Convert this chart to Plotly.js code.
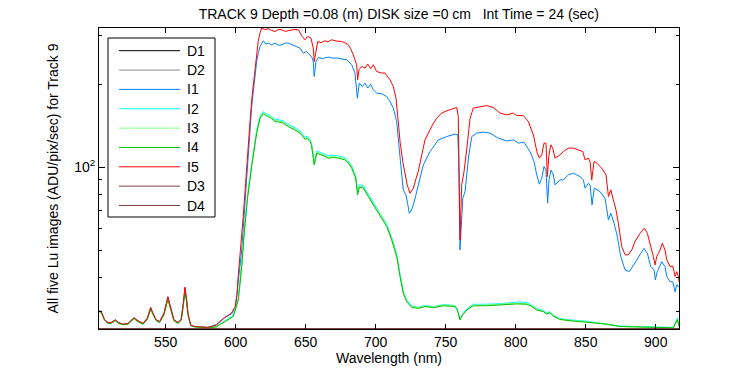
<!DOCTYPE html>
<html>
<head>
<meta charset="utf-8">
<script src="https://cdn.plot.ly/plotly-3.0.1.min.js"></script>
<style>html,body{margin:0;padding:0;background:#fff;}#chart{width:750px;height:375px;}</style>
</head>
<body>
<div id="chart"></div>
<script>
// ---------------- DATA ----------------
const seriesNames = ["D1", "D2", "I1", "I2", "I3", "I4", "I5", "D3", "D4"];

const xTickVals = [550, 600, 650, 700, 750, 800, 850, 900];
const yTickVals = [100];
const yTickText = ["10<sup>2</sup>"];
const yMinorVals = [30, 40, 50, 60, 70, 80, 90, 200, 300];

// dark frames (lie along the bottom of the axes)
const wlDark = [502.4, 530, 560, 600, 610, 640, 660, 700, 720, 760, 800, 830, 860, 900, 916.6];
const d1 = [26.0, 26.0, 26.0, 26.0, 26.1, 26.0, 26.1, 26.0, 26.1, 26.0, 26.1, 26.0, 26.0, 26.0, 26.0];
const d2 = [26.0, 26.0, 26.0, 26.0, 26.0, 26.0, 26.0, 26.0, 26.0, 26.0, 26.0, 26.0, 26.0, 26.0, 26.0];
const d3 = [26.0, 26.0, 26.0, 26.0, 26.0, 26.0, 26.0, 26.0, 26.0, 26.0, 26.0, 26.0, 26.0, 26.0, 26.0];
const d4 = [26.0, 26.0, 26.0, 26.0, 26.0, 26.0, 26.0, 26.0, 26.0, 26.0, 26.0, 26.0, 26.0, 26.0, 26.0];

// I1 (blue)
const wlI1 = [
502.4, 504.0, 506.4, 508.8, 511.1, 514.0, 516.4, 519.5, 523.1, 527.4,
530.2, 533.8, 536.9, 539.3, 540.9, 543.3, 545.7, 548.8, 551.6, 553.6,
555.9, 558.8, 561.1, 562.6, 563.8, 565.0, 565.9, 567.9, 570.7, 580.2,
586.1, 592.1, 596.9, 599.7, 601.6, 604.3, 605.4, 607.1, 607.9, 609.0,
610.2, 611.4, 612.6, 613.8, 615.0, 616.2, 617.4, 619.7, 621.5, 623.3,
625.7, 628.1, 630.5, 632.9, 635.3, 637.6, 640.0, 642.4, 645.9, 648.3,
650.7, 653.1, 654.7, 655.5, 656.1, 657.4, 659.0, 662.0, 666.1, 669.5,
673.3, 676.0, 679.3, 682.9, 685.2, 686.9, 688.3, 690.4, 692.4, 694.3,
696.4, 698.3, 700.7, 704.3, 707.9, 710.3, 712.6, 715.0, 716.1, 717.9,
719.7, 721.6, 722.8, 724.0, 725.5, 726.9, 728.6, 730.4, 734.0, 738.8,
741.7, 744.7, 750.7, 756.6, 758.6, 759.3, 760.2, 761.2, 762.2, 763.8,
766.2, 768.6, 772.2, 776.9, 781.6, 787.6, 793.6, 798.3, 801.9, 805.9,
810.2, 813.1, 815.0, 816.9, 818.6, 820.2, 821.6, 822.8, 823.8, 825.2,
826.9, 828.1, 831.6, 834.0, 837.6, 841.2, 845.9, 848.3, 849.5, 851.9,
853.1, 854.5, 856.1, 860.2, 863.8, 866.2, 867.9, 870.2, 872.6, 875.0,
878.1, 881.2, 884.0, 887.6, 891.6, 894.0, 896.4, 898.8, 899.7, 901.1,
904.3, 906.6, 907.9, 910.2, 912.2, 913.8, 915.0, 916.6
];
const i1 = [
30.2, 30.0, 28.0, 27.4, 27.4, 28.0, 27.4, 27.0, 27.2, 28.5,
27.8, 27.2, 28.4, 31.0, 29.6, 28.0, 27.6, 29.6, 33.9, 30.9,
28.0, 27.4, 28.1, 32.1, 36.6, 33.0, 29.6, 26.8, 26.5, 26.3,
26.9, 28.6, 29.4, 30.8, 37.0, 50.0, 60.0, 80.0, 96.6, 118.0,
142.6, 165.0, 188.3, 215.0, 241.9, 260.0, 274.3, 287.6, 280.0, 282.2,
278.0, 282.2, 277.0, 278.2, 282.0, 282.2, 279.0, 274.3, 270.6, 259.5,
263.0, 255.9, 248.9, 240.0, 213.5, 241.9, 250.2, 248.0, 251.0, 249.0,
248.9, 247.0, 245.4, 235.4, 219.7, 178.2, 202.0, 196.4, 202.0, 193.8,
200.3, 191.0, 185.8, 184.7, 180.6, 173.0, 164.0, 146.6, 124.0, 102.1,
82.9, 79.5, 74.0, 68.2, 70.0, 73.1, 79.0, 86.4, 102.1, 114.1,
120.0, 125.8, 129.3, 132.0, 131.2, 108.0, 50.2, 65.0, 77.3, 81.7,
108.0, 129.3, 133.1, 134.2, 133.1, 127.6, 124.7, 125.8, 122.4, 123.4,
114.1, 105.0, 93.9, 86.9, 91.4, 100.7, 97.9, 74.2, 90.1, 97.9,
93.9, 86.4, 90.1, 90.1, 93.9, 95.3, 92.6, 90.1, 84.1, 87.6,
86.4, 73.1, 84.1, 81.7, 77.3, 64.5, 68.2, 62.8, 56.1, 47.5,
42.5, 41.9, 44.3, 47.5, 50.9, 48.8, 43.7, 42.5, 39.1, 41.9,
45.5, 43.7, 40.2, 38.5, 38.5, 35.4, 37.5, 37.0
];

// I5 (red)
const wlI5 = [
502.4, 504.0, 506.4, 508.8, 511.1, 514.0, 516.4, 519.5, 523.1, 527.4,
530.2, 533.8, 536.9, 539.3, 540.9, 543.3, 545.7, 548.8, 551.6, 553.6,
555.9, 558.8, 561.1, 562.6, 563.8, 565.0, 565.9, 567.9, 570.7, 580.2,
586.1, 592.1, 596.9, 599.7, 601.1, 601.6, 604.3, 605.4, 607.1, 608.3,
609.5, 610.6, 611.8, 613.3, 615.0, 616.1, 617.4, 618.6, 620.5, 623.3,
625.5, 628.1, 630.5, 632.9, 635.5, 638.8, 641.5, 644.7, 646.3, 647.6,
649.5, 651.4, 653.8, 655.4, 656.1, 657.1, 658.6, 661.0, 663.8, 666.0,
668.6, 672.0, 675.7, 678.0, 680.4, 682.0, 684.0, 686.4, 687.1, 688.1,
690.0, 692.4, 694.3, 696.4, 698.3, 700.7, 704.3, 706.6, 708.5, 710.2,
712.6, 714.5, 716.1, 717.4, 719.3, 720.9, 722.5, 724.5, 726.9, 728.5,
730.4, 732.9, 735.2, 738.8, 741.0, 743.6, 747.1, 750.7, 754.3, 757.9,
759.0, 759.7, 760.2, 761.4, 763.1, 765.4, 767.4, 769.7, 774.5, 779.3,
784.0, 788.8, 793.6, 798.3, 800.7, 805.4, 809.0, 812.6, 813.8, 815.4,
816.9, 818.6, 820.2, 821.6, 822.6, 823.6, 825.0, 826.4, 828.1, 831.6,
834.0, 837.6, 841.2, 844.7, 847.9, 849.5, 851.9, 853.1, 854.3, 855.9,
857.9, 861.4, 864.5, 866.2, 867.9, 869.7, 871.6, 873.3, 875.7, 878.1,
880.4, 882.9, 885.2, 888.8, 891.9, 894.0, 896.4, 898.3, 899.5, 900.7,
903.1, 904.7, 906.6, 907.9, 910.2, 912.2, 913.8, 915.0, 916.2, 916.6
];
const i5 = [
30.2, 30.0, 28.0, 27.4, 27.4, 28.0, 27.4, 27.0, 27.2, 28.5,
27.8, 27.2, 28.4, 31.1, 29.6, 28.0, 27.6, 29.6, 34.0, 30.9,
28.0, 27.4, 28.1, 32.2, 36.8, 33.1, 29.6, 26.8, 26.5, 26.3,
26.8, 28.5, 29.6, 31.3, 35.0, 39.1, 54.6, 66.4, 87.6, 110.0,
130.0, 155.0, 183.0, 216.6, 255.9, 286.0, 306.7, 319.8, 316.0, 317.9,
314.0, 310.8, 316.0, 315.3, 311.0, 312.7, 316.0, 315.3, 305.0, 298.1,
290.0, 298.1, 294.1, 270.6, 241.9, 263.0, 286.0, 283.0, 287.6, 285.0,
290.0, 287.0, 286.0, 283.0, 278.2, 270.0, 255.9, 235.4, 207.7, 225.8,
232.1, 229.0, 236.8, 227.7, 235.4, 222.6, 219.7, 219.7, 214.0, 207.7,
196.4, 178.2, 146.6, 124.0, 105.0, 96.6, 86.4, 80.6, 84.1, 90.0,
96.6, 111.0, 125.8, 136.8, 144.0, 150.8, 157.3, 160.3, 163.0, 164.8,
152.8, 71.1, 54.6, 86.4, 96.6, 120.7, 150.8, 164.0, 166.2, 167.5,
164.8, 157.3, 155.0, 157.3, 154.1, 154.1, 146.6, 131.2, 122.4, 112.6,
108.0, 111.0, 122.4, 122.4, 92.6, 109.4, 120.7, 117.4, 108.0, 111.0,
114.1, 117.4, 117.4, 115.7, 114.1, 106.5, 108.0, 105.0, 90.1, 105.0,
103.6, 99.3, 93.9, 78.4, 82.9, 76.2, 70.1, 62.8, 51.6, 48.2,
48.2, 50.2, 53.8, 57.7, 60.2, 57.7, 52.3, 47.5, 44.3, 47.5,
50.2, 53.1, 50.2, 46.2, 43.7, 43.9, 40.2, 41.9, 40.2, 38.5
];

// I2, I3, I4 (cyan, light green, green) share one wavelength list
const wlGreen = [
502.4, 504.0, 506.4, 508.8, 511.1, 514.0, 516.4, 519.5, 523.1, 527.4,
530.2, 533.8, 536.9, 539.3, 540.9, 543.3, 545.7, 548.8, 551.6, 553.6,
555.9, 558.8, 561.1, 562.6, 563.8, 565.0, 565.9, 567.9, 570.7, 580.2,
586.1, 592.4, 598.3, 601.9, 604.3, 606.1, 608.3, 611.4, 615.0, 617.4,
619.7, 621.5, 623.3, 625.7, 628.1, 631.0, 634.0, 637.0, 640.0, 643.0,
645.9, 647.7, 649.5, 651.3, 653.1, 654.2, 655.0, 656.1, 657.9, 661.4,
663.8, 666.1, 669.7, 673.3, 678.1, 680.5, 682.9, 685.7, 687.1, 688.3,
691.2, 694.7, 698.3, 703.1, 707.9, 711.4, 715.0, 717.4, 719.7, 722.1,
725.7, 730.4, 735.2, 741.2, 748.3, 756.6, 758.3, 760.2, 762.1, 765.0,
769.7, 779.3, 791.1, 800.7, 807.9, 811.4, 815.0, 819.7, 822.2, 824.5,
826.9, 831.6, 838.8, 850.7, 862.6, 874.5, 898.3, 912.6, 915.4, 916.6
];
const i2 = [
30.1, 29.9, 28.0, 27.3, 27.3, 27.9, 27.3, 27.0, 27.1, 28.4,
27.7, 27.1, 28.2, 30.8, 29.4, 27.9, 27.5, 29.4, 33.4, 30.7,
27.9, 27.3, 28.0, 31.7, 35.8, 32.7, 29.4, 26.8, 26.5, 26.3,
26.5, 27.8, 29.1, 33.6, 44.4, 58.6, 77.4, 102.4, 135.5, 153.6,
159.2, 156.8, 155.6, 152.8, 149.3, 148.7, 147.3, 143.6, 141.3, 138.6,
135.6, 132.4, 129.0, 129.4, 126.3, 122.2, 113.1, 104.0, 114.7, 113.1,
111.6, 110.1, 110.6, 110.1, 108.6, 105.5, 101.2, 93.2, 81.1, 86.5,
85.8, 80.0, 74.6, 68.7, 62.3, 55.7, 48.5, 41.0, 35.6, 33.1,
31.5, 31.1, 31.6, 31.3, 31.8, 31.6, 30.7, 28.2, 29.4, 30.7,
31.9, 31.9, 32.1, 32.5, 32.4, 31.7, 30.8, 30.3, 29.7, 30.0,
29.1, 28.3, 28.0, 27.7, 27.2, 26.6, 26.4, 26.3, 28.4, 26.6
];
const i3 = [
30.0, 29.8, 27.9, 27.2, 27.2, 27.8, 27.2, 26.9, 27.0, 28.3,
27.6, 27.0, 28.1, 30.7, 29.3, 27.8, 27.4, 29.3, 33.3, 30.6,
27.8, 27.2, 27.9, 31.6, 35.6, 32.6, 29.3, 26.7, 26.4, 26.2,
26.4, 27.7, 28.9, 33.3, 44.0, 58.1, 76.8, 101.5, 134.2, 152.0,
157.6, 155.3, 154.1, 151.3, 147.8, 147.2, 145.8, 142.2, 139.9, 137.2,
134.2, 131.1, 127.7, 128.1, 125.0, 121.0, 112.0, 103.0, 113.5, 112.0,
110.4, 108.9, 109.4, 108.9, 107.4, 104.4, 100.1, 92.2, 80.2, 85.5,
84.8, 79.1, 73.7, 67.9, 61.5, 55.1, 47.9, 40.5, 35.3, 32.8,
31.3, 31.0, 31.5, 31.2, 31.7, 31.5, 30.5, 28.1, 29.3, 30.5,
31.7, 31.7, 31.9, 32.2, 32.1, 31.5, 30.6, 30.1, 29.5, 29.8,
29.0, 28.2, 27.9, 27.6, 27.1, 26.5, 26.3, 26.2, 28.2, 26.5
];
const i4 = [
30.0, 29.8, 27.9, 27.2, 27.2, 27.8, 27.2, 26.9, 27.0, 28.3,
27.6, 27.0, 28.1, 30.6, 29.3, 27.8, 27.4, 29.2, 33.2, 30.5,
27.8, 27.2, 27.9, 31.5, 35.5, 32.5, 29.3, 26.7, 26.4, 26.2,
26.4, 27.6, 28.8, 33.1, 43.7, 57.7, 76.2, 100.7, 133.1, 150.8,
156.3, 154.0, 152.8, 150.0, 146.6, 146.0, 144.6, 141.0, 138.7, 136.0,
133.1, 130.0, 126.6, 127.0, 124.0, 120.0, 111.0, 102.1, 112.6, 111.0,
109.5, 108.0, 108.5, 108.0, 106.5, 103.5, 99.3, 91.4, 79.5, 84.8,
84.1, 78.4, 73.1, 67.3, 61.0, 54.6, 47.5, 40.2, 35.0, 32.6,
31.1, 30.8, 31.3, 31.0, 31.5, 31.3, 30.4, 28.0, 29.2, 30.4,
31.5, 31.5, 31.7, 32.0, 31.9, 31.3, 30.4, 30.0, 29.4, 29.7,
28.9, 28.1, 27.8, 27.5, 27.1, 26.5, 26.3, 26.2, 28.1, 26.5
];

// ---------------- STYLE ----------------
const colors = {
  D1: "#000000", D2: "#8c8c8c", I1: "#0080ff", I2: "#00ffff", I3: "#80ff80",
  I4: "#00c000", I5: "#ff0000", D3: "#804040", D4: "#804040"
};
const font = "Liberation Sans, Arial, Helvetica, sans-serif";
const fs = 14;

const seriesData = {
  D1: [wlDark, d1], D2: [wlDark, d2], I1: [wlI1, i1], I2: [wlGreen, i2], I3: [wlGreen, i3],
  I4: [wlGreen, i4], I5: [wlI5, i5], D3: [wlDark, d3], D4: [wlDark, d4]
};

const traces = seriesNames.map(n => ({
  type: "scatter", mode: "lines", name: n,
  x: seriesData[n][0], y: seriesData[n][1],
  line: {color: colors[n], width: 1},
  showlegend: false, hoverinfo: "skip"
}));

// plot area geometry in px (for legend placement only)
const W = 750, H = 375, L = 99, R = 71, T = 28, B = 46;
const pw = W - L - R, ph = H - T - B;
const px2x = p => (p - L) / pw;
const py2y = p => (H - B - p) / ph;

const shapes = [{
  type: "rect", xref: "paper", yref: "paper",
  x0: px2x(108), x1: px2x(215), y0: py2y(217), y1: py2y(38),
  line: {color: "#000", width: 1}, fillcolor: "#fff", layer: "above"
}];
const annotations = [];
seriesNames.forEach((n, i) => {
  const yy = py2y(50.7 + 19.35 * i);
  shapes.push({type: "line", xref: "paper", yref: "paper",
    x0: px2x(119), x1: px2x(180), y0: yy, y1: yy,
    line: {color: colors[n], width: 1}, layer: "above"});
  annotations.push({xref: "paper", yref: "paper", x: px2x(185), y: yy,
    xanchor: "left", yanchor: "middle", text: n, showarrow: false,
    font: {family: font, size: fs, color: "#000"}});
});

const layout = {
  width: W, height: H,
  margin: {l: L, r: R, t: T, b: B, pad: 0},
  paper_bgcolor: "#fff", plot_bgcolor: "#fff",
  font: {family: font, size: fs, color: "#000"},
  showlegend: false,
  title: {
    text: "TRACK 9 Depth =0.08 (m) DISK size =0 cm\u00a0\u00a0\u00a0Int Time = 24 (sec)",
    font: {family: font, size: fs, color: "#000"},
    xref: "paper", x: 0.517, xanchor: "center",
    yref: "container", y: 1 - 14 / H, yanchor: "middle"
  },
  xaxis: {
    range: [502.4, 916.6], tickmode: "array", tickvals: xTickVals,
    ticks: "inside", ticklen: 5, tickwidth: 1, tickcolor: "#000",
    mirror: "allticks", showline: true, linecolor: "#000", linewidth: 1,
    showgrid: false, zeroline: false,
    tickfont: {family: font, size: fs, color: "#000"},
    title: {text: "Wavelength (nm)", font: {family: font, size: fs, color: "#000"}, standoff: 4}
  },
  yaxis: {
    type: "log", range: [Math.log10(25.95), Math.log10(320)],
    tickmode: "array", tickvals: yTickVals, ticktext: yTickText,
    ticks: "inside", ticklen: 6, tickwidth: 1, tickcolor: "#000",
    minor: {tickmode: "array", tickvals: yMinorVals, ticks: "inside", ticklen: 3, tickcolor: "#000", showgrid: false},
    mirror: "allticks", showline: true, linecolor: "#000", linewidth: 1,
    showgrid: false, zeroline: false,
    tickfont: {family: font, size: fs, color: "#000"},
    title: {text: "All five Lu images (ADU/pix/sec) for Track 9", font: {family: font, size: fs, color: "#000"}, standoff: 12}
  },
  shapes: shapes,
  annotations: annotations
};

Plotly.newPlot("chart", traces, layout, {staticPlot: true, displayModeBar: false});
</script>
</body>
</html>
